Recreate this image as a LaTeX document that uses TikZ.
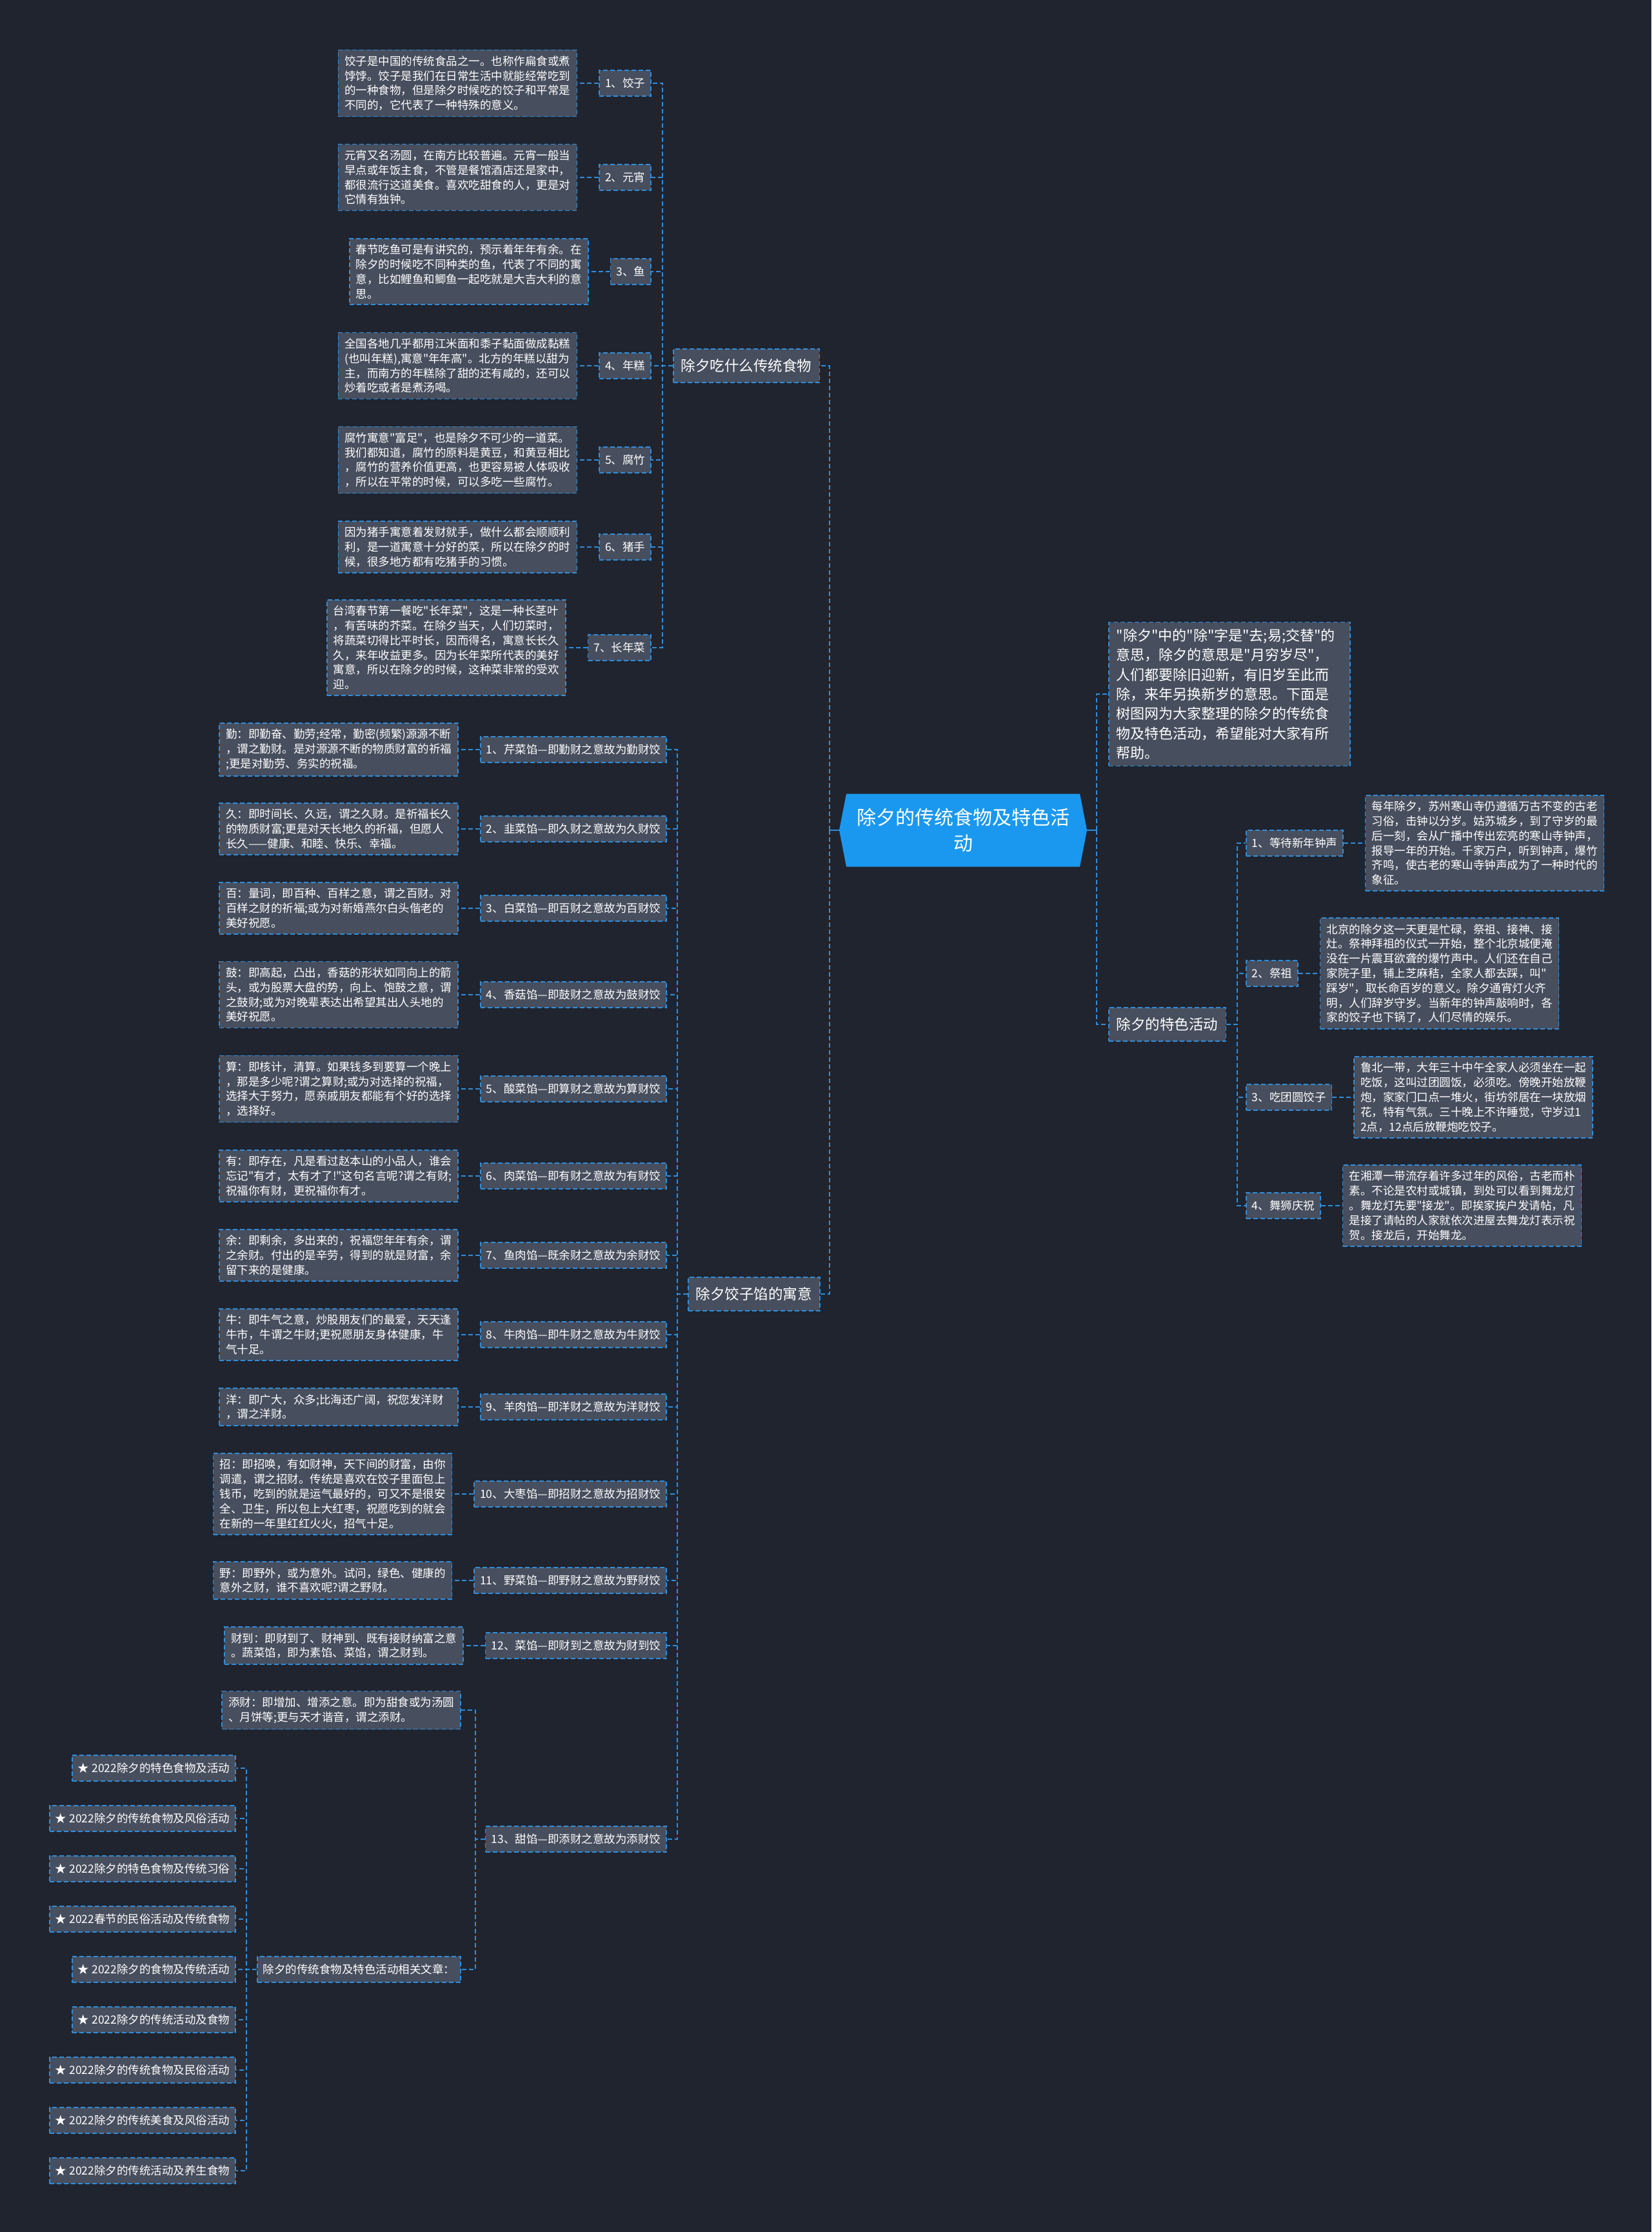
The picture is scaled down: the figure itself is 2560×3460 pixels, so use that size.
\documentclass[tikz,border=0pt]{standalone}
\usepackage{fontspec}
\newfontfamily\cnfont{Noto Sans CJK SC}
\usetikzlibrary{positioning, shapes.symbols}
\definecolor{bgdark}{HTML}{20242F}
\definecolor{boxgray}{HTML}{474E5D}
\definecolor{linkblue}{HTML}{2E8EDC}
\definecolor{rootblue}{HTML}{1A98EF}
\tikzset{
  itembox/.style={draw=linkblue, line width=1.6pt, dash pattern=on 7pt off 4pt,
    fill=boxgray, text=white, inner xsep=9pt, inner ysep=0pt, minimum height=40pt,
    font=\cnfont\fontsize{17.5}{22.8}\selectfont},
  descbox/.style={itembox, text width=350pt, align=left, inner xsep=10pt,
    inner ysep=9pt, minimum height=0pt},
  branchbox/.style={itembox, inner xsep=12pt, minimum height=52pt,
    font=\cnfont\fontsize{22.5}{28}\selectfont},
  rootnode/.style={signal, signal to=west and east, signal pointer angle=158,
    fill=rootblue, text=white, align=center, minimum width=384pt, minimum height=113pt,
    inner sep=0pt, font=\cnfont\fontsize{30}{40}\selectfont},
  link/.style={draw=linkblue, line width=1.8pt, dash pattern=on 7pt off 4pt},
}
\begin{document}
\begin{tikzpicture}[x=1pt, y=-1pt]
  \useasboundingbox (0,0) rectangle (2560,3460);
  \fill[bgdark] (0,0) rectangle (2560,3460);

  % Root
  \node[rootnode] (root) at (1493,1287) {除夕的传统食物及特色活\\动};

  % Branch: traditional food
  \node[branchbox, anchor=west] (food) at (1043,567) {除夕吃什么传统食物};
  \node[itembox, anchor=east] (f1) at (1010,129) {1、饺子};
  \node[itembox, anchor=east] (f2) at (1010,275) {2、元宵};
  \node[itembox, anchor=east] (f3) at (1010,421) {3、鱼};
  \node[itembox, anchor=east] (f4) at (1010,567) {4、年糕};
  \node[itembox, anchor=east] (f5) at (1010,713) {5、腐竹};
  \node[itembox, anchor=east] (f6) at (1010,848) {6、猪手};
  \node[itembox, anchor=east] (f7) at (1010,1004) {7、长年菜};
  \node[descbox, left=33pt of f1] (fd1) {饺子是中国的传统食品之一。也称作扁食或煮\\饽饽。饺子是我们在日常生活中就能经常吃到\\的一种食物，但是除夕时候吃的饺子和平常是\\不同的，它代表了一种特殊的意义。};
  \node[descbox, left=33pt of f2] (fd2) {元宵又名汤圆，在南方比较普遍。元宵一般当\\早点或年饭主食，不管是餐馆酒店还是家中，\\都很流行这道美食。喜欢吃甜食的人，更是对\\它情有独钟。};
  \node[descbox, left=33pt of f3] (fd3) {春节吃鱼可是有讲究的，预示着年年有余。在\\除夕的时候吃不同种类的鱼，代表了不同的寓\\意，比如鲤鱼和鲫鱼一起吃就是大吉大利的意\\思。};
  \node[descbox, left=33pt of f4] (fd4) {全国各地几乎都用江米面和黍子黏面做成黏糕\\(也叫年糕),寓意"年年高"。北方的年糕以甜为\\主，而南方的年糕除了甜的还有咸的，还可以\\炒着吃或者是煮汤喝。};
  \node[descbox, left=33pt of f5] (fd5) {腐竹寓意"富足"，也是除夕不可少的一道菜。\\我们都知道，腐竹的原料是黄豆，和黄豆相比\\，腐竹的营养价值更高，也更容易被人体吸收\\，所以在平常的时候，可以多吃一些腐竹。};
  \node[descbox, left=33pt of f6] (fd6) {因为猪手寓意着发财就手，做什么都会顺顺利\\利，是一道寓意十分好的菜，所以在除夕的时\\候，很多地方都有吃猪手的习惯。};
  \node[descbox, left=33pt of f7] (fd7) {台湾春节第一餐吃"长年菜"，这是一种长茎叶\\，有苦味的芥菜。在除夕当天，人们切菜时，\\将蔬菜切得比平时长，因而得名，寓意长长久\\久，来年收益更多。因为长年菜所代表的美好\\寓意，所以在除夕的时候，这种菜非常的受欢\\迎。};

  % Branch: dumpling fillings
  \node[branchbox, anchor=west] (dump) at (1066,2006) {除夕饺子馅的寓意};
  \node[itembox, anchor=east] (k1) at (1034,1162) {1、芹菜馅—即勤财之意故为勤财饺};
  \node[itembox, anchor=east] (k2) at (1034,1285) {2、韭菜馅—即久财之意故为久财饺};
  \node[itembox, anchor=east] (k3) at (1034,1408) {3、白菜馅—即百财之意故为百财饺};
  \node[itembox, anchor=east] (k4) at (1034,1542) {4、香菇馅—即鼓财之意故为鼓财饺};
  \node[itembox, anchor=east] (k5) at (1034,1688) {5、酸菜馅—即算财之意故为算财饺};
  \node[itembox, anchor=east] (k6) at (1034,1823) {6、肉菜馅—即有财之意故为有财饺};
  \node[itembox, anchor=east] (k7) at (1034,1946) {7、鱼肉馅—既余财之意故为余财饺};
  \node[itembox, anchor=east] (k8) at (1034,2069) {8、牛肉馅—即牛财之意故为牛财饺};
  \node[itembox, anchor=east] (k9) at (1034,2181) {9、羊肉馅—即洋财之意故为洋财饺};
  \node[itembox, anchor=east] (k10) at (1034,2316) {10、大枣馅—即招财之意故为招财饺};
  \node[itembox, anchor=east] (k11) at (1034,2450) {11、野菜馅—即野财之意故为野财饺};
  \node[itembox, anchor=east] (k12) at (1034,2551) {12、菜馅—即财到之意故为财到饺};
  \node[itembox, anchor=east] (k13) at (1034,2851) {13、甜馅—即添财之意故为添财饺};
  \node[descbox, left=33pt of k1] (kd1) {勤：即勤奋、勤劳;经常，勤密(频繁)源源不断\\，谓之勤财。是对源源不断的物质财富的祈福\\;更是对勤劳、务实的祝福。};
  \node[descbox, left=33pt of k2] (kd2) {久：即时间长、久远，谓之久财。是祈福长久\\的物质财富;更是对天长地久的祈福，但愿人\\长久——健康、和睦、快乐、幸福。};
  \node[descbox, left=33pt of k3] (kd3) {百：量词，即百种、百样之意，谓之百财。对\\百样之财的祈福;或为对新婚燕尔白头偕老的\\美好祝愿。};
  \node[descbox, left=33pt of k4] (kd4) {鼓：即高起，凸出，香菇的形状如同向上的箭\\头，或为股票大盘的势，向上、饱鼓之意，谓\\之鼓财;或为对晚辈表达出希望其出人头地的\\美好祝愿。};
  \node[descbox, left=33pt of k5] (kd5) {算：即核计，清算。如果钱多到要算一个晚上\\，那是多少呢?谓之算财;或为对选择的祝福，\\选择大于努力，愿亲戚朋友都能有个好的选择\\，选择好。};
  \node[descbox, left=33pt of k6] (kd6) {有：即存在，凡是看过赵本山的小品人，谁会\\忘记"有才，太有才了!"这句名言呢?谓之有财;\\祝福你有财，更祝福你有才。};
  \node[descbox, left=33pt of k7] (kd7) {余：即剩余，多出来的，祝福您年年有余，谓\\之余财。付出的是辛劳，得到的就是财富，余\\留下来的是健康。};
  \node[descbox, left=33pt of k8] (kd8) {牛：即牛气之意，炒股朋友们的最爱，天天逢\\牛市，牛谓之牛财;更祝愿朋友身体健康，牛\\气十足。};
  \node[descbox, left=33pt of k9] (kd9) {洋：即广大，众多;比海还广阔，祝您发洋财\\，谓之洋财。};
  \node[descbox, left=33pt of k10] (kd10) {招：即招唤，有如财神，天下间的财富，由你\\调遣，谓之招财。传统是喜欢在饺子里面包上\\钱币，吃到的就是运气最好的，可又不是很安\\全、卫生，所以包上大红枣，祝愿吃到的就会\\在新的一年里红红火火，招气十足。};
  \node[descbox, left=33pt of k11] (kd11) {野：即野外，或为意外。试问，绿色、健康的\\意外之财，谁不喜欢呢?谓之野财。};
  \node[descbox, left=33pt of k12] (kd12) {财到：即财到了、财神到、既有接财纳富之意\\。蔬菜馅，即为素馅、菜馅，谓之财到。};
  \node[descbox, anchor=east] (kd13) at (715,2651) {添财：即增加、增添之意。即为甜食或为汤圆\\、月饼等;更与天才谐音，谓之添财。};

  % Related articles
  \node[itembox, anchor=east] (rel) at (715,3053) {除夕的传统食物及特色活动相关文章：};
  \foreach \i/\t in {1/2022除夕的特色食物及活动, 2/2022除夕的传统食物及风俗活动,
      3/2022除夕的特色食物及传统习俗, 4/2022春节的民俗活动及传统食物,
      5/2022除夕的食物及传统活动, 6/2022除夕的传统活动及食物,
      7/2022除夕的传统食物及民俗活动, 8/2022除夕的传统美食及风俗活动,
      9/2022除夕的传统活动及养生食物}
    \node[itembox, anchor=east] (s\i) at (366,{2741+78*(\i-1)}) {★ \t};

  % Branch: activities
  \node[descbox, anchor=west, font=\cnfont\fontsize{22}{30.4}\selectfont, inner xsep=12pt, inner ysep=10pt] (intro) at (1718,1076) {"除夕"中的"除"字是"去;易;交替"的\\意思，除夕的意思是"月穷岁尽"，\\人们都要除旧迎新，有旧岁至此而\\除，来年另换新岁的意思。下面是\\树图网为大家整理的除夕的传统食\\物及特色活动，希望能对大家有所\\帮助。};
  \node[branchbox, anchor=west] (act) at (1718,1588) {除夕的特色活动};
  \node[itembox, anchor=west] (a1) at (1931,1307) {1、等待新年钟声};
  \node[itembox, anchor=west] (a2) at (1931,1509) {2、祭祖};
  \node[itembox, anchor=west] (a3) at (1931,1701) {3、吃团圆饺子};
  \node[itembox, anchor=west] (a4) at (1931,1869) {4、舞狮庆祝};
  \node[descbox, right=33pt of a1] (ad1) {每年除夕，苏州寒山寺仍遵循万古不变的古老\\习俗，击钟以分岁。姑苏城乡，到了守岁的最\\后一刻，会从广播中传出宏亮的寒山寺钟声，\\报导一年的开始。千家万户，听到钟声，爆竹\\齐鸣，使古老的寒山寺钟声成为了一种时代的\\象征。};
  \node[descbox, right=33pt of a2] (ad2) {北京的除夕这一天更是忙碌，祭祖、接神、接\\灶。祭神拜祖的仪式一开始，整个北京城便淹\\没在一片震耳欲聋的爆竹声中。人们还在自己\\家院子里，铺上芝麻秸，全家人都去踩，叫"\\踩岁"，取长命百岁的意义。除夕通宵灯火齐\\明，人们辞岁守岁。当新年的钟声敲响时，各\\家的饺子也下锅了，人们尽情的娱乐。};
  \node[descbox, right=33pt of a3] (ad3) {鲁北一带，大年三十中午全家人必须坐在一起\\吃饭，这叫过团圆饭，必须吃。傍晚开始放鞭\\炮，家家门口点一堆火，街坊邻居在一块放烟\\花，特有气氛。三十晚上不许睡觉，守岁过1\\2点，12点后放鞭炮吃饺子。};
  \node[descbox, right=33pt of a4] (ad4) {在湘潭一带流存着许多过年的风俗，古老而朴\\素。不论是农村或城镇，到处可以看到舞龙灯\\。舞龙灯先要"接龙"。即挨家挨户发请帖，凡\\是接了请帖的人家就依次进屋去舞龙灯表示祝\\贺。接龙后，开始舞龙。};

  % Connectors
  \draw[draw=linkblue, line width=1.8pt] (root.west) -- ++(-15,0);
  \draw[link] (root.west) ++(-15,0) |- (food.east);
  \draw[link] (root.west) ++(-15,0) |- (dump.east);
  \draw[draw=linkblue, line width=1.8pt] (root.east) -- ++(15,0);
  \draw[link] (root.east) ++(15,0) |- (intro.west);
  \draw[link] (root.east) ++(15,0) |- (act.west);
  \foreach \i in {1,...,7} {
    \draw[link] (food.west) -- ++(-16,0) |- (f\i.east);
    \draw[link] (f\i.west) -- (fd\i.east);
  }
  \foreach \i in {1,...,13}
    \draw[link] (dump.west) -- ++(-16,0) |- (k\i.east);
  \foreach \i in {1,...,12}
    \draw[link] (k\i.west) -- (kd\i.east);
  \draw[link] (k13.west) -- ++(-15,0) |- (kd13.east);
  \draw[link] (k13.west) -- ++(-15,0) |- (rel.east);
  \foreach \i in {1,...,9}
    \draw[link] (rel.west) -- ++(-16,0) |- (s\i.east);
  \foreach \i in {1,...,4} {
    \draw[link] (act.east) -- ++(17,0) |- (a\i.west);
    \draw[link] (a\i.east) -- (ad\i.west);
  }
\end{tikzpicture}
\end{document}
